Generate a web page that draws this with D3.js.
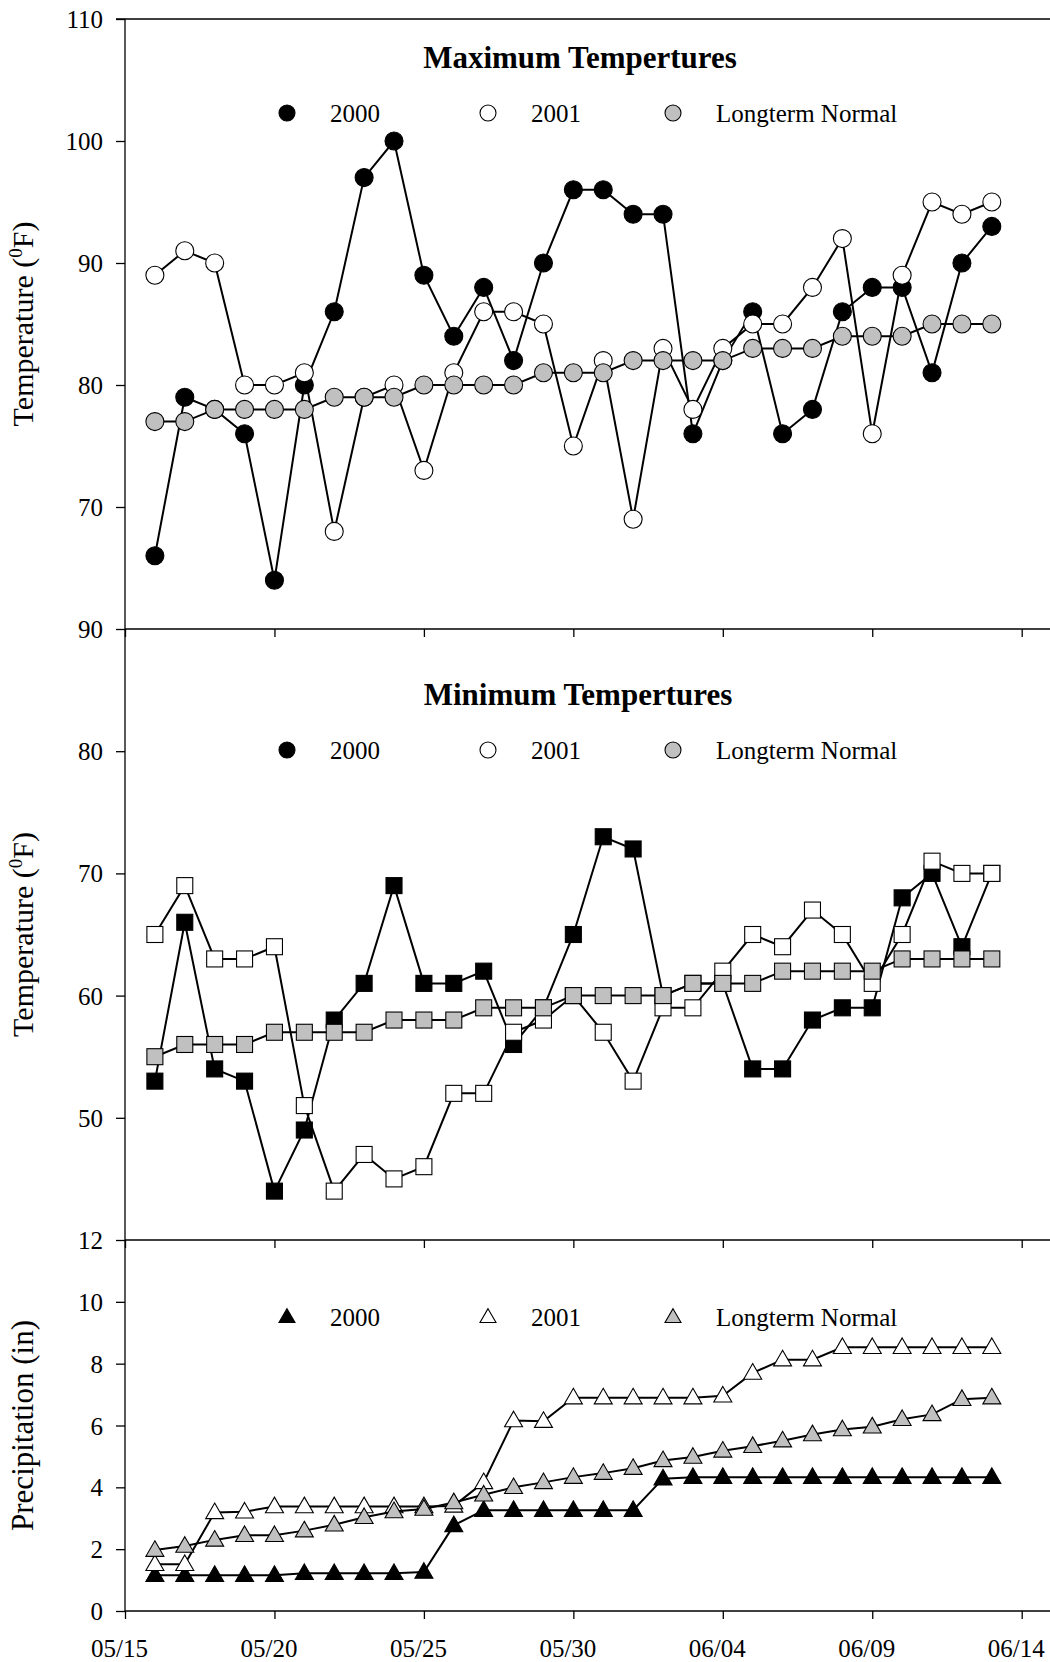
<!DOCTYPE html>
<html>
<head>
<meta charset="utf-8">
<script src="https://cdn.jsdelivr.net/npm/d3@7"></script>
<style>
  html, body { margin: 0; padding: 0; background: #fff; }
  svg { display: block; }
  text { font-family: "Liberation Serif", "Times New Roman", serif; fill: #000; }
</style>
</head>
<body>
<svg id="chart" width="1050" height="1662"></svg>
<script>
// days of the observations
const dates = ["05/16","05/17","05/18","05/19","05/20","05/21","05/22","05/23","05/24","05/25",
  "05/26","05/27","05/28","05/29","05/30","05/31","06/01","06/02","06/03","06/04",
  "06/05","06/06","06/07","06/08","06/09","06/10","06/11","06/12","06/13"];
const xTickLabels = ["05/15","05/20","05/25","05/30","06/04","06/09","06/14"];

const seriesNames = ["2000", "2001", "Longterm Normal"];

// maximum temperatures (F)
const maxT2000 = [66,79,78,76,64,80,86,97,100,89,84,88,82,90,96,96,94,94,76,82,86,76,78,86,88,88,81,90,93];
const maxT2001 = [89,91,90,80,80,81,68,79,80,73,81,86,86,85,75,82,69,83,78,83,85,85,88,92,76,89,95,94,95];
const maxTNormal = [77,77,78,78,78,78,79,79,79,80,80,80,80,81,81,81,82,82,82,82,83,83,83,84,84,84,85,85,85];

// minimum temperatures (F)
const minT2000 = [53,66,54,53,44,49,58,61,69,61,61,62,56,59,65,73,72,60,61,61,54,54,58,59,59,68,70,64,70];
const minT2001 = [65,69,63,63,64,51,44,47,45,46,52,52,57,58,60,57,53,59,59,62,65,64,67,65,61,65,71,70,70];
const minTNormal = [55,56,56,56,57,57,57,57,58,58,58,59,59,59,60,60,60,60,61,61,61,62,62,62,62,63,63,63,63];

// cumulative precipitation (in)
const precip2000 = [1.16,1.16,1.16,1.16,1.16,1.22,1.22,1.22,1.22,1.26,2.77,3.26,3.26,3.26,3.26,3.26,3.26,4.28,4.33,4.33,4.33,4.33,4.33,4.33,4.33,4.33,4.33,4.33,4.33];
const precip2001 = [1.51,1.51,3.19,3.21,3.38,3.38,3.38,3.38,3.38,3.38,3.4,4.16,6.16,6.14,6.9,6.9,6.9,6.9,6.9,6.96,7.7,8.13,8.13,8.53,8.53,8.53,8.53,8.53,8.53];
const precipNormal = [1.97,2.1,2.3,2.45,2.45,2.6,2.79,3.03,3.22,3.3,3.51,3.76,4.0,4.16,4.33,4.46,4.62,4.87,4.98,5.18,5.33,5.51,5.71,5.87,5.96,6.2,6.36,6.85,6.9];

const maxTicks = [70, 80, 90, 100, 110];
const minTicks = [50, 60, 70, 80, 90];
const precipTicks = [0, 2, 4, 6, 8, 10, 12];

const W = 1050;
const left = 125;
const fills = ["#000", "#fff", "#c0c0c0"];

const parse = d3.utcParse("%m/%d");
const fmt = d3.utcFormat("%m/%d");

const x = d3.scaleUtc()
  .domain([parse(xTickLabels[0]), parse(xTickLabels[xTickLabels.length - 1])])
  .range([left, 1021.7]);

const svg = d3.select("#chart");
svg.append("rect").attr("width", W).attr("height", 1662).attr("fill", "#fff");

const panels = [
  { title: "Maximum Tempertures", ylabel: "temp", domain: [60, 110], top: 19, bottom: 629,
    ticks: maxTicks, series: [maxT2000, maxT2001, maxTNormal], symbol: "circle",
    titleX: 580, titleY: 68, legendY: 113, legendSymbol: "circle" },
  { title: "Minimum Tempertures", ylabel: "temp", domain: [40, 90], top: 629, bottom: 1240,
    ticks: minTicks, series: [minT2000, minT2001, minTNormal], symbol: "square",
    titleX: 578, titleY: 705, legendY: 750, legendSymbol: "circle" },
  { title: null, ylabel: "precip", domain: [0, 12], top: 1240, bottom: 1611,
    ticks: precipTicks, series: [precip2000, precip2001, precipNormal], symbol: "triangle",
    titleY: null, legendY: 1317, legendSymbol: "triangle" }
];

function drawSymbol(g, type, cx, cy, fill, size) {
  if (type === "circle") {
    g.append("circle").attr("cx", cx).attr("cy", cy).attr("r", size / 2)
      .attr("fill", fill).attr("stroke", "#000").attr("stroke-width", 1.1);
  } else if (type === "square") {
    g.append("rect").attr("x", cx - size / 2).attr("y", cy - size / 2)
      .attr("width", size).attr("height", size)
      .attr("fill", fill).attr("stroke", "#000").attr("stroke-width", 1.1);
  } else {
    const h = size * Math.sqrt(3) / 2;
    g.append("path")
      .attr("d", `M${cx},${cy - h * 0.6}L${cx + size / 2},${cy + h * 0.4}L${cx - size / 2},${cy + h * 0.4}Z`)
      .attr("fill", fill).attr("stroke", "#000").attr("stroke-width", 1.1);
  }
}

panels.forEach(p => {
  const y = d3.scaleLinear().domain(p.domain).range([p.bottom, p.top]);
  const g = svg.append("g");

  // top frame line for the first panel
  if (p.top === 19) {
    g.append("line").attr("x1", 116).attr("x2", W).attr("y1", p.top).attr("y2", p.top)
      .attr("stroke", "#000").attr("stroke-width", 1.3);
  }

  // y axis
  const yAxis = g.append("g")
    .attr("transform", `translate(${left},0)`)
    .call(d3.axisLeft(y).tickValues(p.ticks).tickSize(9).tickPadding(13).tickFormat(d3.format("d")));
  yAxis.select(".domain").attr("stroke-width", 1.3).attr("d", `M0,${p.top}V${p.bottom}`);
  yAxis.selectAll(".tick line").attr("stroke-width", 1.3);
  yAxis.selectAll(".tick text").attr("font-size", 25).attr("dy", "0.34em");

  // x axis at the bottom of each panel, ticks pointing down
  const xAxis = g.append("g")
    .attr("transform", `translate(0,${p.bottom})`)
    .call(d3.axisBottom(x).tickValues(xTickLabels.map(parse)).tickSize(8).tickFormat(fmt));
  xAxis.select(".domain").attr("stroke-width", 1.3).attr("d", `M${left},0H${W}`);
  xAxis.selectAll(".tick line").attr("stroke-width", 1.3);
  if (p.ylabel === "precip") {
    xAxis.selectAll(".tick text")
      .attr("font-size", 25)
      .attr("y", 0).attr("dy", 0).attr("dx", -6)
      .attr("transform", "translate(0,46)");
  } else {
    xAxis.selectAll(".tick text").remove();
  }

  // y label
  const cy = (p.top + p.bottom) / 2;
  const lab = g.append("text")
    .attr("transform", `translate(33,${cy}) rotate(-90)`)
    .attr("text-anchor", "middle");
  if (p.ylabel === "temp") {
    lab.attr("font-size", 30);
    lab.append("tspan").text("Temperature (");
    lab.append("tspan").attr("dy", -11).attr("font-size", 19).text("0");
    lab.append("tspan").attr("dy", 11).text("F)");
  } else {
    lab.attr("font-size", 31).text("Precipitation (in)");
  }

  // title
  if (p.title) {
    g.append("text").attr("x", p.titleX).attr("y", p.titleY)
      .attr("text-anchor", "middle").attr("font-size", 31).attr("font-weight", "bold")
      .text(p.title);
  }

  // legend
  const legX = [287, 488, 673];
  seriesNames.forEach((name, i) => {
    drawSymbol(g, p.legendSymbol, legX[i], p.legendY, fills[i], 16);
    g.append("text").attr("x", legX[i] + 43).attr("y", p.legendY + 9)
      .attr("font-size", 25).text(name);
  });

  // series: line then markers, in order 2000, 2001, normal
  const line = d3.line().x((d, i) => x(parse(dates[i]))).y(d => y(d));
  p.series.forEach((vals, si) => {
    const sg = g.append("g");
    sg.append("path").datum(vals).attr("d", line)
      .attr("fill", "none").attr("stroke", "#000").attr("stroke-width", 2);
    vals.forEach((v, i) => {
      const size = p.symbol === "square" ? 16 : (p.symbol === "triangle" ? 18 : 18);
      drawSymbol(sg, p.symbol, x(parse(dates[i])), y(v), fills[si], size);
    });
  });
});
</script>
</body>
</html>
